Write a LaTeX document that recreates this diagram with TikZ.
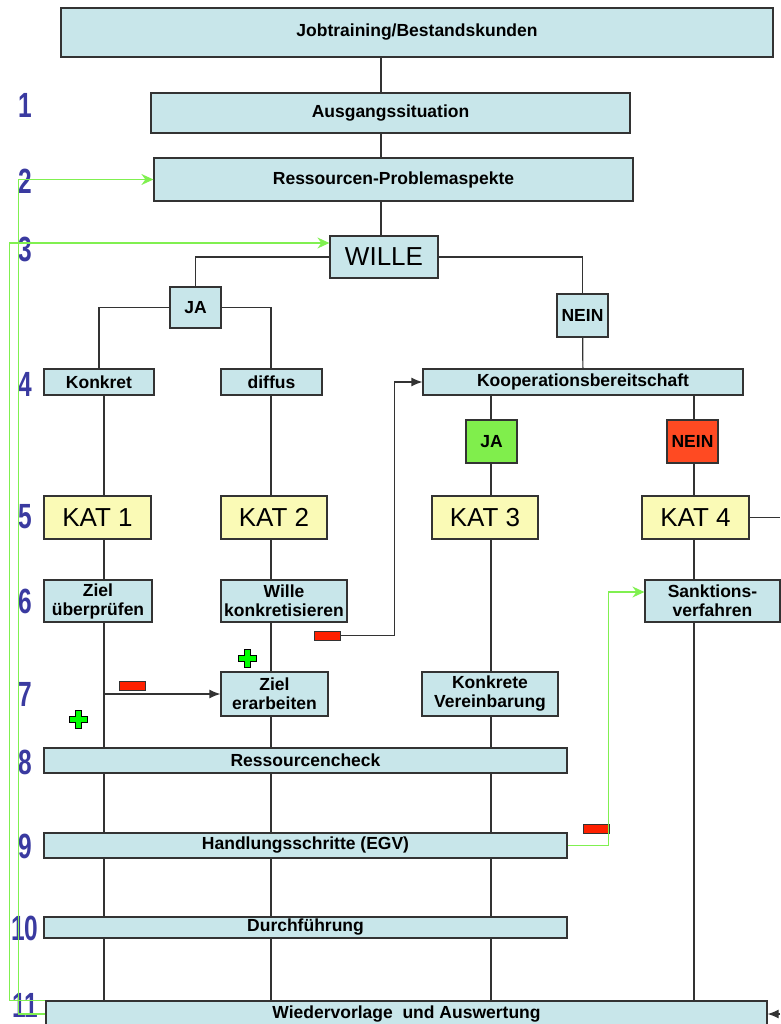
\documentclass[tikz,border=0pt]{standalone}
\usepackage{fontspec}
\setmainfont{Liberation Sans}
\usetikzlibrary{arrows.meta}

\definecolor{boxblue}{RGB}{200,230,234}
\definecolor{katyellow}{RGB}{250,250,182}
\definecolor{jagreen}{RGB}{128,238,76}
\definecolor{neinred}{RGB}{255,74,34}
\definecolor{minusred}{RGB}{255,32,0}
\definecolor{plusgreen}{RGB}{0,255,0}
\definecolor{linegreen}{RGB}{128,240,80}
\definecolor{numblue}{RGB}{58,58,160}

\begin{document}
\begin{tikzpicture}[x=1pt,y=-1pt]
\tikzset{
box/.style={rectangle,draw=black!80,fill=boxblue,line width=1.2pt,inner sep=0pt,align=center,font=\fontsize{17.5}{19}\selectfont\bfseries},
katbox/.style={box,fill=katyellow,font=\fontsize{26}{30}\selectfont},
minusbox/.style={rectangle,draw=black!80,fill=minusred,line width=1pt,minimum width=26pt,minimum height=9pt,inner sep=0pt},
numlabel/.style={text=numblue,inner sep=0pt,font=\fontsize{35}{35}\selectfont\bfseries},
myline/.style={draw=black!80,line width=1.2pt},
myarrow/.style={-{Latex[length=11pt,width=9pt]}, draw=black!80, line width=1.2pt},
greenarrow/.style={-{Stealth[length=12pt,width=11pt,inset=4pt]}, draw=linegreen, line width=1.4pt},
plussign/.pic={\draw[fill=plusgreen,line width=0.8pt] (-3,-9) -- (3,-9) -- (3,-3) -- (9,-3) -- (9,3) -- (3,3) -- (3,9) -- (-3,9) -- (-3,3) -- (-9,3) -- (-9,-3) -- (-3,-3) -- cycle;},
}
\useasboundingbox (0,0) rectangle (780,1024);

% row numbers
\node[numlabel] (num1) at (25,105) {\scalebox{0.7}[1]{1}};
\node[numlabel] (num2) at (25,181) {\scalebox{0.7}[1]{2}};
\node[numlabel] (num3) at (25,249) {\scalebox{0.7}[1]{3}};
\node[numlabel] (num4) at (25,384) {\scalebox{0.7}[1]{4}};
\node[numlabel] (num5) at (25,517) {\scalebox{0.7}[1]{5}};
\node[numlabel] (num6) at (25,601) {\scalebox{0.7}[1]{6}};
\node[numlabel] (num7) at (25,694) {\scalebox{0.7}[1]{7}};
\node[numlabel] (num8) at (25,762) {\scalebox{0.7}[1]{8}};
\node[numlabel] (num9) at (25,846) {\scalebox{0.7}[1]{9}};
\node[numlabel] (num10) at (25,928) {\scalebox{0.7}[1]{10}};
\node[numlabel] (num11) at (25,1005) {\scalebox{0.7}[1]{11}};

% columns
\coordinate (colTop) at (381,0);
\coordinate (colA) at (104,0);
\coordinate (colB) at (271,0);
\coordinate (colC) at (491,0);
\coordinate (colD) at (694,0);
\coordinate (rightEdge) at (780,0);

\node[box, minimum width=712pt, minimum height=49pt] (job) at (417,32.5) {Jobtraining/Bestandskunden};
\node[box, minimum width=479pt, minimum height=40pt] (ausgang) at (390.5,113) {Ausgangssituation};
\node[box, minimum width=479pt, minimum height=43pt] (ressourcen) at (393.5,179.5) {Ressourcen-Problemaspekte};
\node[box, minimum width=108pt, minimum height=42pt, font=\fontsize{26}{30}\selectfont] (wille) at (384,257) {WILLE};
\node[box, minimum width=51pt, minimum height=41pt] (ja) at (195.5,307.5) {JA};
\node[box, minimum width=51pt, minimum height=43pt] (nein) at (582.5,315.5) {NEIN};
\node[box, minimum width=110pt, minimum height=26pt] (konkret) at (99,382) {Konkret};
\node[box, minimum width=101pt, minimum height=26pt] (diffus) at (271.5,382) {diffus};
\node[box, minimum width=320pt, minimum height=26pt] (koop) at (583,382) {Kooperationsbereitschaft};
\node[box, fill=jagreen, minimum width=51pt, minimum height=43pt] (jagruen) at (491.5,441.5) {JA};
\node[box, fill=neinred, minimum width=51pt, minimum height=43pt] (neinrot) at (692.5,441.5) {NEIN};
\node[katbox, minimum width=107pt, minimum height=43pt] (kat1) at (97.5,517.5) {KAT 1};
\node[katbox, minimum width=106pt, minimum height=43pt] (kat2) at (274,517.5) {KAT 2};
\node[katbox, minimum width=106pt, minimum height=43pt] (kat3) at (485,517.5) {KAT 3};
\node[katbox, minimum width=107pt, minimum height=43pt] (kat4) at (695.5,517.5) {KAT 4};
\node[box, minimum width=108pt, minimum height=42pt] (zielpruef) at (98,601) {Ziel\\überprüfen};
\node[box, minimum width=126pt, minimum height=42pt] (willekonk) at (284,601) {Wille\\konkretisieren};
\node[box, minimum width=135pt, minimum height=42pt] (sanktion) at (712.5,601) {Sanktions-\\verfahren};
\node[box, minimum width=107pt, minimum height=44pt] (zielerarb) at (274.5,694) {Ziel\\erarbeiten};
\node[box, minimum width=136pt, minimum height=44pt] (vereinb) at (490,694) {Konkrete\\Vereinbarung};
\node[box, minimum width=523pt, minimum height=25pt] (rescheck) at (305.5,760.5) {Ressourcencheck};
\node[box, minimum width=523pt, minimum height=25pt] (handlung) at (305.5,845.5) {Handlungsschritte (EGV)};
\node[box, minimum width=523pt, minimum height=21pt] (durchf) at (305.5,927.5) {Durchführung};
\node[box, minimum width=721pt, minimum height=26pt] (wieder) at (406.5,1014) {Wiedervorlage\ \ und Auswertung};

\node[minusbox] (minusA) at (132.5,686) {};
\node[minusbox] (minusB) at (327,635.5) {};
\node[minusbox] (minusC) at (596,828.5) {};
\pic (plusA) at (78,719) {plussign};
\pic (plusB) at (247,658) {plussign};

% top
\draw[myline] (job.south -| colTop) -- (ausgang.north -| colTop);
\draw[myline] (ausgang.south -| colTop) -- (ressourcen.north -| colTop);
\draw[myline] (ressourcen.south -| colTop) -- (wille.north -| colTop);
\draw[myline] (wille.west) -| (ja.north);
\draw[myline] (wille.east) -| (nein.north);
\draw[myline] (ja.west) -| (konkret.north);
\draw[myline] (ja.east) -| (diffus.north -| colB);
\draw[myline] (nein) -- (koop);
% column A
\draw[myline] (konkret.south -| colA) -- (kat1.north -| colA) (kat1.south -| colA) -- (zielpruef.north -| colA)
  (zielpruef.south -| colA) -- (rescheck.north -| colA) (rescheck.south -| colA) -- (handlung.north -| colA)
  (handlung.south -| colA) -- (durchf.north -| colA) (durchf.south -| colA) -- (wieder.north -| colA);
\draw[myarrow] (zielerarb.west -| colA) -- (zielerarb.west);
% column B
\draw[myline] (diffus.south -| colB) -- (kat2.north -| colB) (kat2.south -| colB) -- (willekonk.north -| colB)
  (willekonk.south -| colB) -- (zielerarb.north -| colB) (zielerarb.south -| colB) -- (rescheck.north -| colB)
  (rescheck.south -| colB) -- (handlung.north -| colB) (handlung.south -| colB) -- (durchf.north -| colB)
  (durchf.south -| colB) -- (wieder.north -| colB);
\draw[myarrow] (minusB.east) -- ++(54,0) |- (koop.west);
% column C
\draw[myline] (koop.south -| colC) -- (jagruen.north -| colC) (jagruen.south -| colC) -- (kat3.north -| colC)
  (kat3.south -| colC) -- (vereinb.north -| colC) (vereinb.south -| colC) -- (rescheck.north -| colC)
  (rescheck.south -| colC) -- (handlung.north -| colC) (handlung.south -| colC) -- (durchf.north -| colC)
  (durchf.south -| colC) -- (wieder.north -| colC);
% column D
\draw[myline] (koop.south -| colD) -- (neinrot.north -| colD) (neinrot.south -| colD) -- (kat4.north -| colD)
  (kat4.south -| colD) -- (sanktion.north -| colD) (sanktion.south -| colD) -- (wieder.north -| colD);
\draw[myline] (kat4.east) -- (kat4.east -| rightEdge);
\draw[myarrow] (wieder.east -| rightEdge) -- (wieder.east);
% green loops
\draw[greenarrow] (handlung.east) -- ++(41,0) |- ([yshift=9pt]sanktion.west);
\draw[greenarrow] (wieder.west) -- ++(-27,0) |- (ressourcen.west);
\draw[greenarrow] (wieder.north west) -- ++(-36,0) |- ([yshift=14pt]wille.west);
\end{tikzpicture}
\end{document}
